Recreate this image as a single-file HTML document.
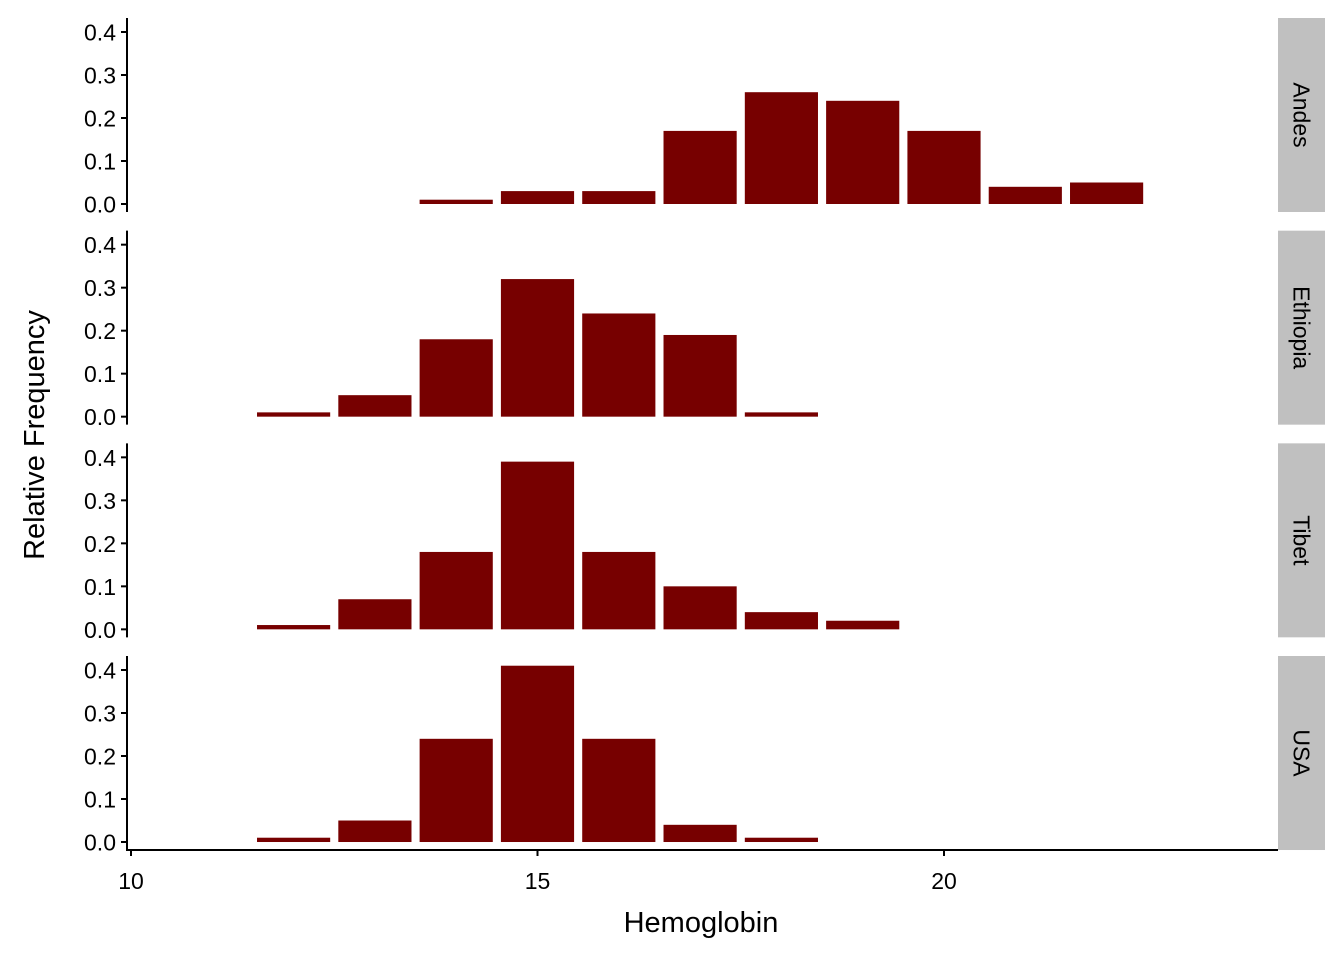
<!DOCTYPE html>
<html><head><meta charset="utf-8"><style>
body{margin:0;background:#fff}
svg text{font-family:"Liberation Sans",Arial,sans-serif;fill:#000}
</style></head><body>
<svg width="1344" height="960" xmlns="http://www.w3.org/2000/svg">
<g id="root"></g>
</svg>
<script>
const panelNames = ["Andes","Ethiopia","Tibet","USA"];
const binCenters = [12,13,14,15,16,17,18,19,20,21,22];
const andesValues = [0,0,0.01,0.03,0.03,0.17,0.26,0.24,0.17,0.04,0.05];
const ethiopiaValues = [0.01,0.05,0.18,0.32,0.24,0.19,0.01,0,0,0,0];
const tibetValues = [0.01,0.07,0.18,0.39,0.18,0.10,0.04,0.02,0,0,0];
const usaValues = [0.01,0.05,0.24,0.41,0.24,0.04,0.01,0,0,0,0];
const yTicks = [0,0.1,0.2,0.3,0.4];
const yTickLabels = ["0.0","0.1","0.2","0.3","0.4"];
const xTicks = [10,15,20];
const xTickLabels = ["10","15","20"];

const series = [andesValues, ethiopiaValues, tibetValues, usaValues];
const NS = "http://www.w3.org/2000/svg";
const root = document.getElementById("root");
function mk(tag, attrs, parent){const e=document.createElementNS(NS,tag);for(const k in attrs)e.setAttribute(k,attrs[k]);(parent||root).appendChild(e);return e;}
const xScale = v => 131 + (v-10)*81.3;
const left=127, right=1278, panelTop0=18, panelH=194, panelStep=212.67;
const barW = 0.9*81.3;

panelNames.forEach((name,p)=>{
  const top = panelTop0 + p*panelStep;
  const zeroY = top + 186;
  const yScale = v => zeroY - v*430;
  const g = mk("g",{});
  
  
  series[p].forEach((v,i)=>{
    if(v<=0) return;
    const r = mk("rect",{x:xScale(binCenters[i])-barW/2,y:yScale(v),width:barW,height:zeroY-yScale(v),fill:"#770000"},g);
    
    
  });
  const ax = mk("line",{x1:left,x2:left,y1:top,y2:top+panelH,stroke:"#000","stroke-width":2},g);
  
  
  yTicks.forEach((t,i)=>{
    const y=yScale(t);
    const tk = mk("line",{x1:left-6,x2:left,y1:y,y2:y,stroke:"#000","stroke-width":2},g);
    
    
    const tx = mk("text",{x:left-11,y:y+8.5,"text-anchor":"end","font-size":23},g);
    tx.textContent = yTickLabels[i];
    
    
  });
  const st = mk("rect",{x:1278,y:top,width:47,height:panelH,fill:"#c0c0c0"},g);
  
  
  const cy = top+panelH/2;
  const sl = mk("text",{x:1301.5,y:cy,"text-anchor":"middle","font-size":23,transform:`rotate(90 1301.5 ${cy}) translate(0 8)`},g);
  sl.textContent = name;
  
  
});

const xa = mk("line",{x1:left-1,x2:right,y1:850,y2:850,stroke:"#000","stroke-width":2});


xTicks.forEach((t,i)=>{
  const x=xScale(t);
  const tk = mk("line",{x1:x,x2:x,y1:850,y2:856,stroke:"#000","stroke-width":2});
  
  
  const tx = mk("text",{x:x,y:889,"text-anchor":"middle","font-size":23});
  tx.textContent = xTickLabels[i];
  
  
});
const xt = mk("text",{x:701,y:932,"text-anchor":"middle","font-size":29});
xt.textContent="Hemoglobin";


const yt = mk("text",{x:0,y:0,"text-anchor":"middle","font-size":29,transform:"translate(44 435) rotate(-90)"});
yt.textContent="Relative Frequency";


</script>
</body></html>
